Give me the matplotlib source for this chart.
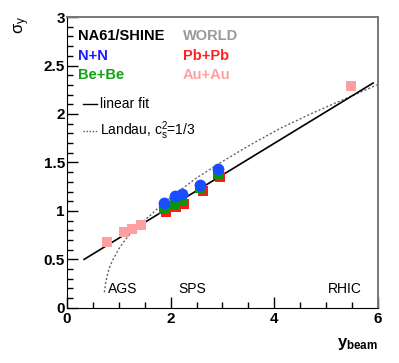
import numpy as np
import matplotlib.pyplot as plt
from matplotlib.ticker import MultipleLocator

plt.rcParams['font.family'] = ['Liberation Sans', 'DejaVu Sans']
plt.rcParams['mathtext.fontset'] = 'custom'
plt.rcParams['mathtext.rm'] = 'Liberation Sans'
plt.rcParams['mathtext.it'] = 'Liberation Sans'
plt.rcParams['mathtext.bf'] = 'Liberation Sans:bold'

# beam rapidity of NA61/SHINE energies
y_na61 = [1.88, 2.08, 2.22, 2.57, 2.91]
sig_nn = [1.08, 1.15, 1.17, 1.27, 1.43]
sig_bebe = [1.02, 1.07, 1.10, 1.24, 1.38]

# world data
y_pbpb = [1.91, 2.11, 2.26, 2.62, 2.95]
sig_pbpb = [0.99, 1.04, 1.07, 1.21, 1.35]
y_auau = [0.77, 1.10, 1.26, 1.42, 5.48]
sig_auau = [0.675, 0.78, 0.81, 0.85, 2.29]

# linear fit (end points)
fit_x = [0.33, 5.91]
fit_y = [0.50, 2.32]

# Landau curve
landau_x = [0.72, 0.74, 0.77, 0.81, 0.87, 0.94, 0.99, 1.08, 1.18, 1.30, 1.44, 1.60, 1.76,
            2.05, 2.50, 3.00, 3.50, 4.11, 4.70, 5.21, 5.60, 5.98]
landau_y = [0.16, 0.24, 0.32, 0.40, 0.48, 0.55, 0.60, 0.67, 0.74, 0.81, 0.88, 0.95, 1.03,
            1.16, 1.34, 1.51, 1.67, 1.85, 2.00, 2.12, 2.21, 2.30]

fig = plt.figure(figsize=(3.99, 3.63), dpi=100)
ax = fig.add_axes([0.168, 0.152, 0.779, 0.801])

ax.plot(landau_x, landau_y, ls=(0, (1.5, 1.5)), color='#666666', lw=1.0)
ax.plot(fit_x, fit_y, color='black', lw=1.2)

ax.plot(y_auau, sig_auau, 's', color='#ffa0a0', ms=7.5, mew=0)
ax.plot(y_pbpb, sig_pbpb, 's', color='#ff1a1a', ms=7.5, mew=0)
ax.plot(y_na61, sig_bebe, 's', color='#0a960a', ms=7.5, mew=0)
ax.plot(y_na61, sig_nn, 'o', color='#1a4dff', ms=8.5, mew=0)

ax.set_xlim(0, 6)
ax.set_ylim(0, 3)
ax.xaxis.set_major_locator(MultipleLocator(2))
ax.xaxis.set_minor_locator(MultipleLocator(0.5))
ax.yaxis.set_major_locator(MultipleLocator(0.5))
ax.yaxis.set_minor_locator(MultipleLocator(0.1))
ax.set_yticks([0, 0.5, 1, 1.5, 2, 2.5, 3])
ax.set_yticklabels(['0', '0.5', '1', '1.5', '2', '2.5', '3'])
ax.tick_params(which='both', direction='in', top=False, right=False, width=1)
ax.tick_params(which='major', length=8, labelsize=11)
ax.tick_params(axis='y', which='major', pad=1.5)
ax.tick_params(axis='x', which='major', pad=3)
ax.tick_params(which='minor', length=4)
for lab in ax.get_xticklabels() + ax.get_yticklabels():
    lab.set_fontweight('bold')
for s in ['top', 'right']:
    ax.spines[s].set_color('#777777')
    ax.spines[s].set_linewidth(1.4)

# energy ranges
ax.text(0.79, 0.19, 'AGS', fontsize=10, va='center')
ax.text(2.14, 0.19, 'SPS', fontsize=10, va='center')
ax.text(5.04, 0.19, 'RHIC', fontsize=10, va='center')

# legend
tr = ax.transAxes
ax.text(0.035, 0.935, 'NA61/SHINE', transform=tr, fontsize=10.5, fontweight='bold', va='center')
ax.text(0.035, 0.866, 'N+N', transform=tr, fontsize=10.5, fontweight='bold', color='#1a1aff', va='center')
ax.text(0.035, 0.800, 'Be+Be', transform=tr, fontsize=10.5, fontweight='bold', color='#11a011', va='center')
ax.text(0.373, 0.935, 'WORLD', transform=tr, fontsize=10.5, fontweight='bold', color='#999999', va='center')
ax.text(0.373, 0.866, 'Pb+Pb', transform=tr, fontsize=10.5, fontweight='bold', color='#ff2020', va='center')
ax.text(0.373, 0.800, 'Au+Au', transform=tr, fontsize=10.5, fontweight='bold', color='#ffa0a0', va='center')
ax.plot([0.051, 0.096], [0.70, 0.70], transform=tr, color='black', lw=1.0)
ax.text(0.106, 0.70, 'linear fit', transform=tr, fontsize=10, va='center')
ax.plot([0.051, 0.096], [0.608, 0.608], transform=tr, color='#555555', lw=1.0, ls=(0, (1, 1.2)))
ax.text(0.106, 0.608, r'Landau, c$_s^2$=1/3', transform=tr, fontsize=10, va='center')

fig.text(0.055, 0.955, r'$\sigma_y$', rotation=90, fontsize=12, ha='center', va='top')
fig.text(0.947, 0.03, r'$\mathbf{y_{beam}}$', fontsize=12, ha='right', va='bottom')

fig.savefig('out.png', dpi=100)
